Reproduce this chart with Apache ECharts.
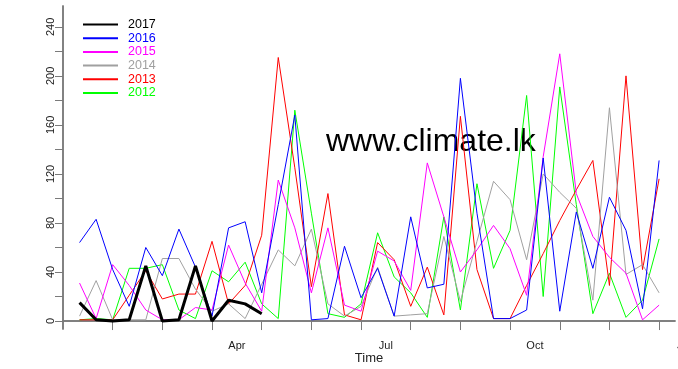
<!DOCTYPE html>
<html>
<head>
<meta charset="utf-8">
<script src="https://cdn.jsdelivr.net/npm/echarts@6/dist/echarts.min.js"></script>
<style>
    html, body { margin: 0; padding: 0; background: #fff; }
    #myChart { width: 678px; height: 369px; }
</style>
</head>
<body>
<div id="myChart"></div>
<script>
// dekadal rainfall (mm), 36 dekads per year
var years = ['2017', '2016', '2015', '2014', '2013', '2012'];
var colors = ['#000000', '#0000ff', '#ff00ff', '#a0a0a0', '#ff0000', '#00ff00'];

var r2017 = [15, 1, 0, 1, 45, 0, 1, 45, 0, 17, 14, 6];
var r2016 = [64, 83, 42, 12, 60, 37, 75, 44, 4, 76, 81, 23, 95, 168, 1, 2, 61, 19, 43, 4, 85, 27, 30, 198, 88, 2, 2, 9, 133, 8, 89, 43, 101, 74, 10, 131];
var r2015 = [31, 2, 46, 29, 9, 1, 1, 11, 9, 62, 31, 8, 115, 76, 23, 76, 13, 8, 57, 49, 25, 129, 85, 40, 58, 78, 59, 21, 134, 218, 104, 69, 52, 39, 1, 13];
var r2014 = [4, 33, 1, 1, 1, 51, 51, 26, 8, 14, 2, 30, 58, 45, 75, 14, 4, 12, 44, 4, 5, 6, 69, 16, 65, 114, 99, 50, 120, 105, 92, 17, 174, 38, 46, 23];
var r2013 = [1, 1, 1, 21, 41, 18, 22, 22, 65, 14, 29, 70, 215, 125, 28, 104, 5, 1, 64, 50, 12, 44, 5, 167, 42, 2, 2, 29, 55, 82, 107, 131, 29, 200, 42, 116];
var r2012 = [1, 2, 1, 43, 43, 46, 9, 2, 41, 32, 48, 14, 2, 172, 88, 6, 3, 14, 72, 36, 23, 3, 85, 9, 112, 43, 74, 184, 20, 191, 95, 6, 39, 3, 17, 67];
var rain = [r2017, r2016, r2015, r2014, r2013, r2012];

var monthTicks = [1, 2, 3, 4, 5, 6, 7, 8, 9, 10, 11, 12];
var monthLabels = { 3.5: 'Apr', 6.5: 'Jul', 9.5: 'Oct' };
var yTicks = [0, 20, 40, 60, 80, 100, 120, 140, 160, 180, 200, 220, 240];
var yLabels = [0, 40, 80, 120, 160, 200, 240];

var axisColor = '#7a7a7a';
var font = 'Liberation Sans, Arial, sans-serif';

var myEchart = echarts.init(document.getElementById('myChart'));

var series = [];
for (var k = years.length - 1; k >= 0; k--) {
    series.push({
        name: years[k],
        type: 'line',
        symbol: 'none',
        silent: true,
        lineStyle: { color: colors[k], width: years[k] === '2017' ? 3 : 1 },
        itemStyle: { color: colors[k] },
        // dekad n of the year sits at n/3 months
        data: rain[k].map(function (v, i) { return [(i + 1) / 3, v]; })
    });
}

myEchart.setOption({
    animation: false,
    grid: { left: 63, right: 3, top: 6, bottom: 40, outerBoundsMode: 'none' },
    legend: {
        orient: 'vertical',
        left: 82,
        top: 18,
        padding: 0,
        itemWidth: 35,
        itemHeight: 10,
        itemGap: 0.7,
        itemStyle: { opacity: 0 },
        textStyle: { fontFamily: font, fontSize: 12.5, lineHeight: 12, padding: [0, 0, 0, 5] },
        data: years.map(function (y, k) {
            return { name: y, textStyle: { color: colors[k] } };
        })
    },
    xAxis: [{
        type: 'value',
        position: 'bottom',
        min: 0,
        max: 12.32,
        name: 'Time',
        nameLocation: 'middle',
        nameGap: 23,
        nameMoveOverlap: false,
        nameTextStyle: { fontFamily: font, fontSize: 13, color: '#222' },
        splitLine: { show: false },
        axisLine: { lineStyle: { color: axisColor, width: 1.5 } },
        axisTick: { show: true, length: 8, customValues: monthTicks, lineStyle: { color: axisColor } },
        axisLabel: {
            customValues: [3.5, 6.5, 9.5],
            margin: 11,
            fontFamily: font,
            fontSize: 11,
            color: '#222',
            formatter: function (v) { return monthLabels[v] || ''; }
        }
    }, {
        type: 'value',
        position: 'top',
        min: 0,
        max: 12.32,
        splitLine: { show: false },
        axisLine: { lineStyle: { color: axisColor, width: 1.5 } },
        axisTick: { show: true, inside: true, length: 9, customValues: monthTicks, lineStyle: { color: axisColor } },
        axisLabel: { show: false }
    }],
    yAxis: [{
        type: 'value',
        position: 'left',
        min: -6.5,
        max: 257,
        splitLine: { show: false },
        axisLine: { show: true, lineStyle: { color: axisColor, width: 1.5 } },
        axisTick: { show: true, length: 8, customValues: yTicks, lineStyle: { color: axisColor } },
        axisLabel: {
            customValues: yLabels,
            rotate: 90,
            margin: 7,
            fontFamily: font,
            fontSize: 11,
            color: '#222'
        }
    }, {
        type: 'value',
        position: 'right',
        min: -6.5,
        max: 257,
        splitLine: { show: false },
        axisLine: { show: true, lineStyle: { color: axisColor, width: 1.5 } },
        axisTick: { show: true, inside: true, length: 8, customValues: yTicks, lineStyle: { color: axisColor } },
        axisLabel: { show: false }
    }],
    graphic: [{
        type: 'text',
        left: 326,
        top: 126,
        silent: true,
        style: { text: 'www.climate.lk', fill: '#000', font: '32px ' + font }
    }, {
        // next January label, mostly beyond the right edge
        type: 'text',
        left: 677,
        top: 340,
        silent: true,
        style: { text: 'Jan', fill: '#222', font: '11px ' + font }
    }],
    series: series
});

window.addEventListener('resize', function () {
    myEchart.resize();
});
</script>
</body>
</html>
